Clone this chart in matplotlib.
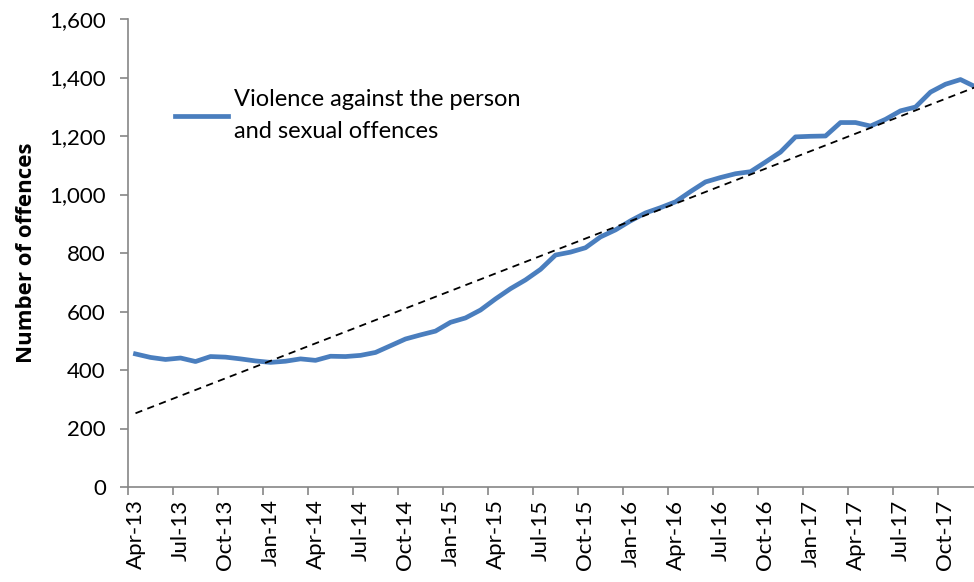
import matplotlib
matplotlib.use("Agg")
import matplotlib.pyplot as plt
import numpy as np

plt.rcParams['font.family'] = ['Lato', 'DejaVu Sans']

# monthly counts, Apr-13 .. Dec-17
months = ['Apr-13', 'May-13', 'Jun-13', 'Jul-13', 'Aug-13', 'Sep-13', 'Oct-13', 'Nov-13', 'Dec-13',
          'Jan-14', 'Feb-14', 'Mar-14', 'Apr-14', 'May-14', 'Jun-14', 'Jul-14', 'Aug-14', 'Sep-14',
          'Oct-14', 'Nov-14', 'Dec-14', 'Jan-15', 'Feb-15', 'Mar-15', 'Apr-15', 'May-15', 'Jun-15',
          'Jul-15', 'Aug-15', 'Sep-15', 'Oct-15', 'Nov-15', 'Dec-15', 'Jan-16', 'Feb-16', 'Mar-16',
          'Apr-16', 'May-16', 'Jun-16', 'Jul-16', 'Aug-16', 'Sep-16', 'Oct-16', 'Nov-16', 'Dec-16',
          'Jan-17', 'Feb-17', 'Mar-17', 'Apr-17', 'May-17', 'Jun-17', 'Jul-17', 'Aug-17', 'Sep-17',
          'Oct-17', 'Nov-17', 'Dec-17']
offences = [455, 443, 436, 441, 429, 446, 444, 438, 431, 426,
            430, 438, 433, 447, 446, 450, 460, 483, 506, 520,
            533, 563, 578, 605, 643, 678, 708, 744, 793, 803,
            818, 855, 879, 910, 937, 955, 975, 1010, 1043, 1058,
            1071, 1078, 1111, 1145, 1197, 1199, 1200, 1246, 1246, 1234,
            1257, 1286, 1299, 1350, 1377, 1393, 1368]

x = np.arange(len(months))
slope, icpt = np.polyfit(x, offences, 1)
trend = slope * x + icpt

fig = plt.figure(figsize=(9.74, 5.82), dpi=100)
ax = fig.add_axes([128/974, 95/582, 855/974, 468/582])

line, = ax.plot(x, offences, color='#4A7EBE', lw=3.4, solid_joinstyle='round',
                label='Violence against the person\nand sexual offences', clip_on=False)
ax.plot(x, trend, color='black', lw=1.3, ls=(0, (4, 3)))

ax.set_xlim(-0.5, len(months) - 0.5)
ax.set_ylim(0, 1600)
ax.set_yticks(np.arange(0, 1601, 200))
ax.set_yticklabels([f'{v:,}' for v in range(0, 1601, 200)])

# ticks on category boundaries, labels on category centres
ax.set_xticks(np.arange(-0.5, len(months), 3))
ax.set_xticklabels([])
ax.set_xticks(x[::3], minor=True)
ax.set_xticklabels(months[::3], minor=True, rotation=90)
ax.tick_params(axis='x', which='minor', length=0, pad=9, labelsize=16)
ax.tick_params(axis='x', which='major', length=6, color='#868686', width=1.2)
ax.tick_params(axis='y', length=6, color='#868686', width=1.2, labelsize=16, pad=10)

for s in ['top', 'right']:
    ax.spines[s].set_visible(False)
for s in ['left', 'bottom']:
    ax.spines[s].set_color('#868686')
    ax.spines[s].set_linewidth(1.2)

ax.set_ylabel('Number of offences', fontsize=16, fontweight='bold', labelpad=9,
              family=['Open Sans', 'DejaVu Sans'])

leg = ax.legend(handles=[line], loc='upper left', bbox_to_anchor=(0.044, 0.87), frameon=False,
                fontsize=17, handlelength=2.25, handletextpad=0.25, borderaxespad=0)
for t in leg.get_texts():
    t.set_linespacing(1.65)

fig.savefig('out.png', dpi=100)
